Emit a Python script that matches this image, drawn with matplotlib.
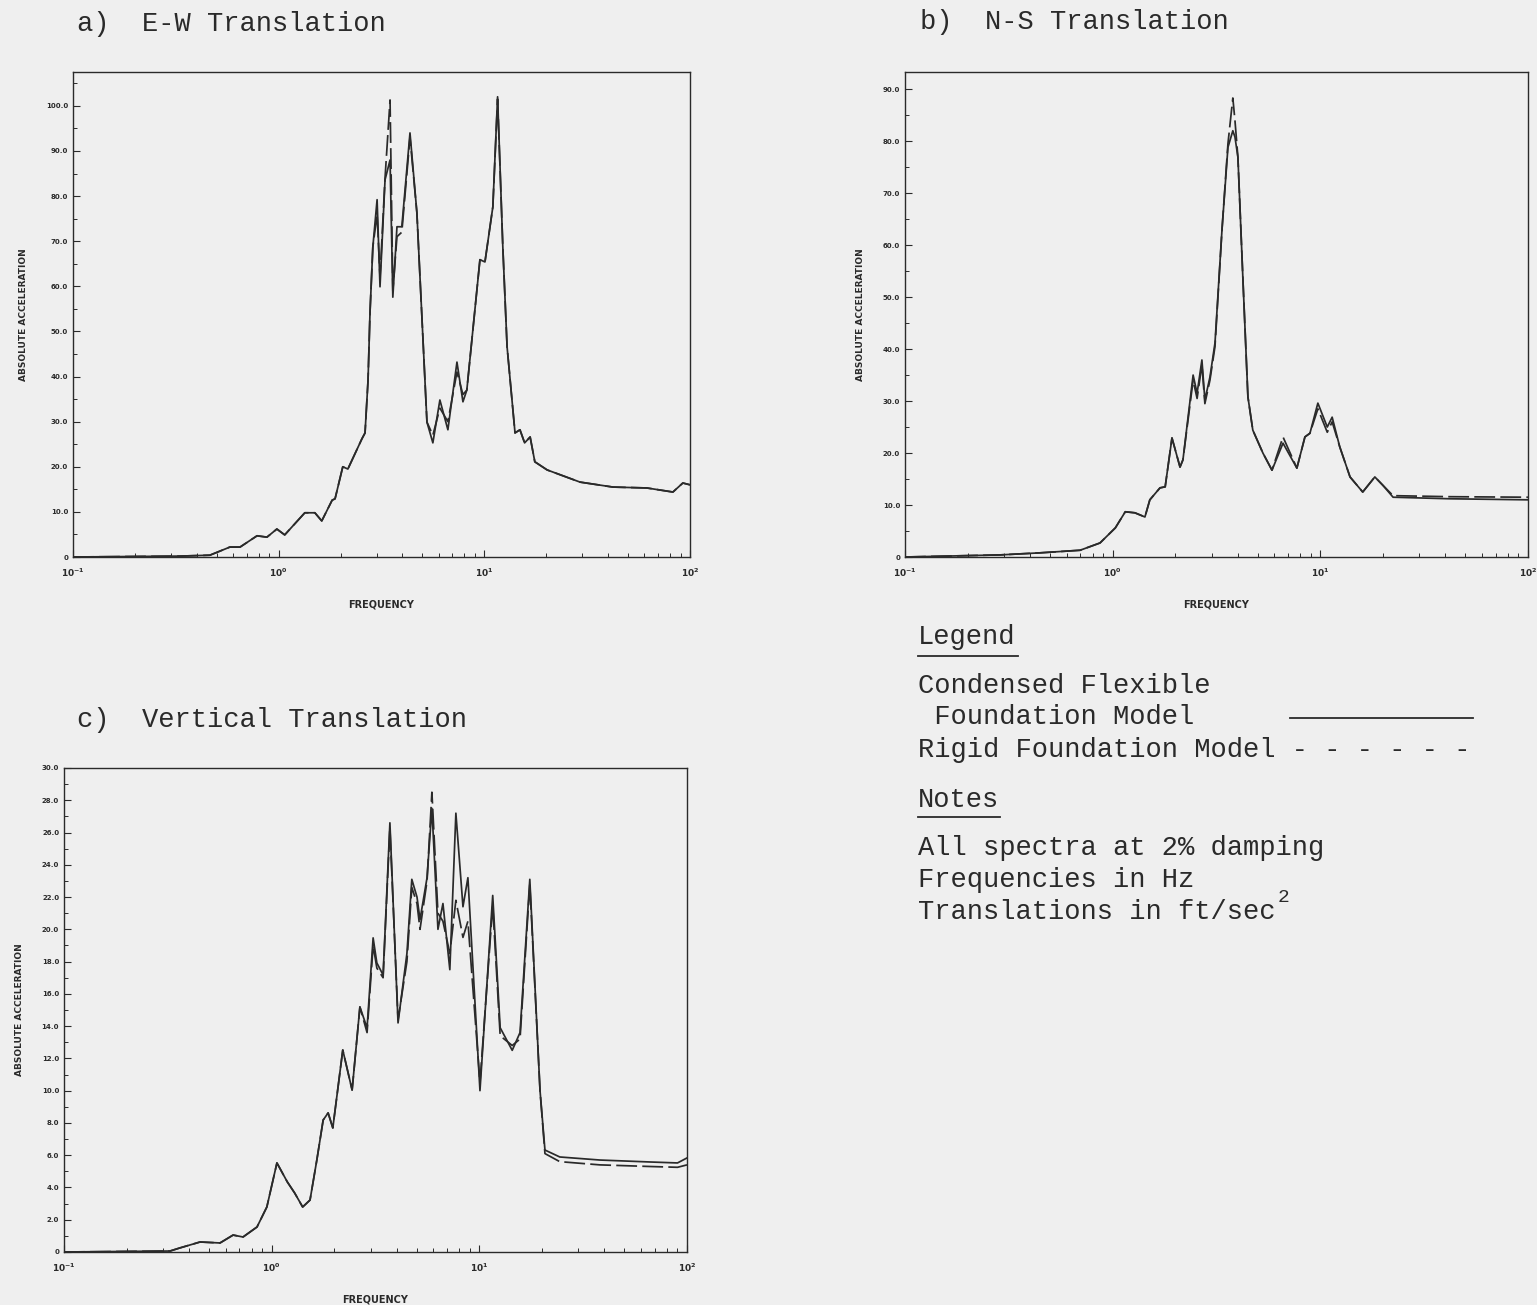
import matplotlib
matplotlib.use("Agg")
import matplotlib.pyplot as plt
from matplotlib.lines import Line2D
from matplotlib.ticker import FixedLocator, FuncFormatter, LogLocator, NullFormatter

# ---------------- data ----------------
# a) E-W translation
ew_freq = [0.1, 0.331, 0.463, 0.579, 0.649, 0.785, 0.877, 0.98, 1.07, 1.34, 1.50, 1.62, 1.82, 1.88,
           2.05, 2.17, 2.54, 2.63, 2.72, 2.78, 2.87, 3.01, 3.11, 3.29, 3.48, 3.59, 3.76, 3.97, 4.35,
           4.70, 5.26, 5.62, 6.08, 6.65, 7.36, 7.87, 8.22, 9.52, 10.07, 11.0, 11.6, 12.3, 12.9, 14.1,
           14.9, 15.7, 16.7, 17.6, 20.2, 29.2, 42.2, 61.7, 82.6, 92.3, 100.0]
ew_flex = [0.0, 0.2, 0.4, 2.2, 2.2, 4.7, 4.4, 6.2, 4.9, 9.8, 9.8, 8.0, 12.6, 12.9,
           20.0, 19.5, 26.2, 27.5, 39.2, 54.1, 68.7, 79.2, 59.9, 83.6, 88.0, 57.6, 73.2, 73.2, 94.0,
           76.3, 29.9, 25.3, 34.8, 28.2, 43.2, 34.4, 37.0, 65.9, 65.4, 77.6, 102.0, 68.7, 46.6, 27.5,
           28.2, 25.3, 26.6, 21.1, 19.3, 16.6, 15.5, 15.3, 14.4, 16.4, 16.0]
ew_rigid = [0.0, 0.2, 0.4, 2.2, 2.2, 4.7, 4.4, 6.2, 4.9, 9.8, 9.8, 8.0, 12.6, 12.9,
            20.0, 19.5, 26.2, 27.5, 39.2, 54.1, 68.7, 76.0, 62.0, 84.0, 101.3, 59.0, 71.0, 72.0, 93.0,
            76.3, 29.9, 27.0, 33.0, 30.0, 41.0, 36.0, 37.0, 65.9, 65.4, 77.6, 101.5, 68.7, 46.6, 27.5,
            28.2, 25.3, 26.6, 21.1, 19.3, 16.6, 15.5, 15.3, 14.4, 16.4, 16.0]

# b) N-S translation
ns_freq = [0.1, 0.286, 0.447, 0.697, 0.869, 1.03, 1.15, 1.28, 1.43, 1.51, 1.69, 1.79, 1.93, 2.11,
           2.18, 2.44, 2.55, 2.69, 2.78, 2.94, 3.11, 3.36, 3.59, 3.79, 3.88, 4.01, 4.24, 4.48, 4.73,
           5.29, 5.85, 6.61, 7.71, 8.43, 8.91, 9.73, 10.8, 11.4, 12.4, 13.9, 16.0, 18.3, 20.0, 22.4,
           42.1, 100.0]
ns_flex = [0.0, 0.4, 0.8, 1.3, 2.7, 5.6, 8.7, 8.5, 7.7, 11.0, 13.3, 13.5, 22.9, 17.3,
           18.7, 35.0, 31.5, 37.9, 30.2, 34.6, 41.2, 62.9, 78.8, 82.0, 80.8, 76.9, 53.3, 30.8, 24.4,
           20.0, 16.7, 21.9, 17.1, 23.1, 23.8, 29.6, 25.0, 26.9, 21.2, 15.4, 12.5, 15.4, 13.8, 11.5,
           11.2, 11.0]
ns_rigid = [0.0, 0.4, 0.8, 1.3, 2.7, 5.6, 8.7, 8.5, 7.7, 11.0, 13.3, 13.5, 22.9, 17.3,
            18.7, 34.0, 30.5, 37.0, 29.5, 34.0, 40.5, 62.9, 79.5, 88.3, 84.0, 76.9, 53.3, 30.8, 24.4,
            20.0, 16.7, 23.1, 17.1, 23.1, 23.8, 28.5, 24.0, 26.0, 21.2, 15.4, 12.5, 15.4, 13.8, 11.8,
            11.6, 11.5]

# c) Vertical translation
v_freq = [0.1, 0.324, 0.361, 0.452, 0.564, 0.652, 0.728, 0.850, 0.948, 1.06, 1.19, 1.29, 1.41, 1.53,
          1.65, 1.77, 1.87, 1.97, 2.20, 2.44, 2.66, 2.88, 3.08, 3.21, 3.44, 3.71, 4.06, 4.48, 4.73,
          5.01, 5.18, 5.60, 5.91, 6.32, 6.68, 7.21, 7.71, 8.34, 8.81, 10.07, 11.6, 12.6, 14.4, 15.7,
          17.5, 19.6, 20.7, 24.4, 38.1, 66.2, 90.0, 100.0]
v_flex = [0.0, 0.06, 0.25, 0.62, 0.56, 1.05, 0.93, 1.55, 2.79, 5.52, 4.34, 3.66, 2.79, 3.22,
          5.70, 8.18, 8.62, 7.69, 12.52, 10.04, 15.19, 13.89, 19.47, 17.92, 17.17, 26.6, 14.2, 18.5, 23.1,
          22.0, 20.6, 23.2, 27.5, 20.0, 21.6, 17.5, 27.2, 21.4, 23.2, 10.0, 22.1, 13.9, 12.5, 13.6,
          23.1, 10.0, 6.32, 5.89, 5.70, 5.58, 5.52, 5.83]
v_rigid = [0.0, 0.06, 0.25, 0.62, 0.56, 1.05, 0.93, 1.55, 2.79, 5.52, 4.34, 3.66, 2.79, 3.22,
           5.70, 8.18, 8.62, 7.69, 12.52, 10.04, 15.19, 13.6, 19.0, 17.6, 17.0, 26.3, 14.4, 18.0, 22.6,
           21.6, 20.0, 23.0, 28.5, 21.0, 20.5, 18.5, 21.8, 19.5, 20.5, 10.5, 21.5, 13.4, 12.8, 13.2,
           22.8, 10.0, 6.1, 5.6, 5.4, 5.3, 5.25, 5.4]

ew_yticks = [0, 10, 20, 30, 40, 50, 60, 70, 80, 90, 100]
ns_yticks = [0, 10, 20, 30, 40, 50, 60, 70, 80, 90]
v_yticks = [0, 2, 4, 6, 8, 10, 12, 14, 16, 18, 20, 22, 24, 26, 28, 30]
x_ticks = [0.1, 1, 10, 100]
x_ticklabels = [r"$\mathbf{10^{-1}}$", r"$\mathbf{10^{0}}$", r"$\mathbf{10^{1}}$", r"$\mathbf{10^{2}}$"]

titles = ["a)  E-W Translation", "b)  N-S Translation", "c)  Vertical Translation"]
xlabel = "FREQUENCY"
ylabel = "ABSOLUTE ACCELERATION"

# ---------------- styling ----------------
W, H = 1537, 1305
BG = "#efefef"
INK = "#2a2a2a"
MONO = "Liberation Mono"

fig = plt.figure(figsize=(W / 100, H / 100), dpi=100, facecolor=BG)


def fx(px):
    return px / W


def fy(py):
    return 1 - py / H


def make_axes(l, r, t, b):
    return fig.add_axes([fx(l), fy(b), fx(r) - fx(l), fy(t) - fy(b)], facecolor=BG)


def style(ax, yticks, ylim, yminor):
    ax.set_xscale("log")
    ax.set_xlim(0.1, 100)
    ax.set_ylim(0, ylim)
    for s in ax.spines.values():
        s.set_linewidth(1.0)
        s.set_color(INK)
    ax.set_xticks(x_ticks)
    ax.set_xticklabels(x_ticklabels, fontsize=6.5, color=INK)
    ax.xaxis.set_minor_locator(LogLocator(base=10, subs=range(2, 10)))
    ax.xaxis.set_minor_formatter(NullFormatter())
    ax.yaxis.set_major_locator(FixedLocator(yticks))
    ax.yaxis.set_minor_locator(FixedLocator(yminor))
    ax.yaxis.set_major_formatter(FuncFormatter(lambda v, p: "0" if v == 0 else f"{v:.1f}"))
    ax.tick_params(axis="x", which="major", pad=7)
    ax.tick_params(axis="both", which="major", direction="in", length=5, width=0.8,
                   colors=INK, top=False, right=False)
    ax.tick_params(axis="both", which="minor", direction="in", length=3, width=0.7,
                   colors=INK, top=False, right=False)
    for lab in ax.get_yticklabels():
        lab.set_fontsize(5)
        lab.set_fontweight("bold")
    ax.set_xlabel(xlabel, fontsize=7, fontweight="bold", color=INK, labelpad=15)
    ax.set_ylabel(ylabel, fontsize=6.5, fontweight="bold", color=INK, labelpad=13)


def draw(ax, f, flex, rigid):
    ax.plot(f, rigid, color=INK, lw=1.25, ls=(0, (12, 3)))
    ax.plot(f, flex, color=INK, lw=1.25, ls="-")


ax_a = make_axes(73, 690, 72, 557)
draw(ax_a, ew_freq, ew_flex, ew_rigid)
style(ax_a, ew_yticks, 107.5, [v + 5 for v in ew_yticks])

ax_b = make_axes(905, 1528, 72, 557)
draw(ax_b, ns_freq, ns_flex, ns_rigid)
style(ax_b, ns_yticks, 93.3, [v + 5 for v in ns_yticks])

ax_c = make_axes(64, 687, 768, 1252)
draw(ax_c, v_freq, v_flex, v_rigid)
style(ax_c, v_yticks, 30, [v + 1 for v in v_yticks[:-1]])

# titles
TS = 19.5
fig.text(fx(77), fy(24), titles[0], family=MONO, fontsize=TS, color=INK, ha="left", va="center")
fig.text(fx(920), fy(22), titles[1], family=MONO, fontsize=TS, color=INK, ha="left", va="center")
fig.text(fx(77), fy(720), titles[2], family=MONO, fontsize=TS, color=INK, ha="left", va="center")

# legend / notes block
lx = 918
fig.text(fx(lx), fy(637), "Legend", family=MONO, fontsize=TS, color=INK, ha="left", va="center")
fig.add_artist(Line2D([fx(918), fx(1018)], [fy(656), fy(656)], color=INK, lw=1.3))
fig.text(fx(lx), fy(686), "Condensed Flexible", family=MONO, fontsize=TS, color=INK, ha="left", va="center")
fig.text(fx(lx), fy(717), " Foundation Model", family=MONO, fontsize=TS, color=INK, ha="left", va="center")
fig.add_artist(Line2D([fx(1290), fx(1473)], [fy(718), fy(718)], color=INK, lw=1.3))
fig.text(fx(lx), fy(750), "Rigid Foundation Model - - - - - -", family=MONO, fontsize=TS, color=INK,
         ha="left", va="center")
fig.text(fx(lx), fy(800), "Notes", family=MONO, fontsize=TS, color=INK, ha="left", va="center")
fig.add_artist(Line2D([fx(918), fx(1000)], [fy(817), fy(817)], color=INK, lw=1.3))
fig.text(fx(lx), fy(848), "All spectra at 2% damping", family=MONO, fontsize=TS, color=INK,
         ha="left", va="center")
fig.text(fx(lx), fy(880), "Frequencies in Hz", family=MONO, fontsize=TS, color=INK, ha="left", va="center")
fig.text(fx(lx), fy(912), "Translations in ft/sec", family=MONO, fontsize=TS, color=INK,
         ha="left", va="center")
fig.text(fx(1278), fy(897), "2", family=MONO, fontsize=14, color=INK, ha="left", va="center")

fig.savefig("out.png", dpi=100, facecolor=BG)
